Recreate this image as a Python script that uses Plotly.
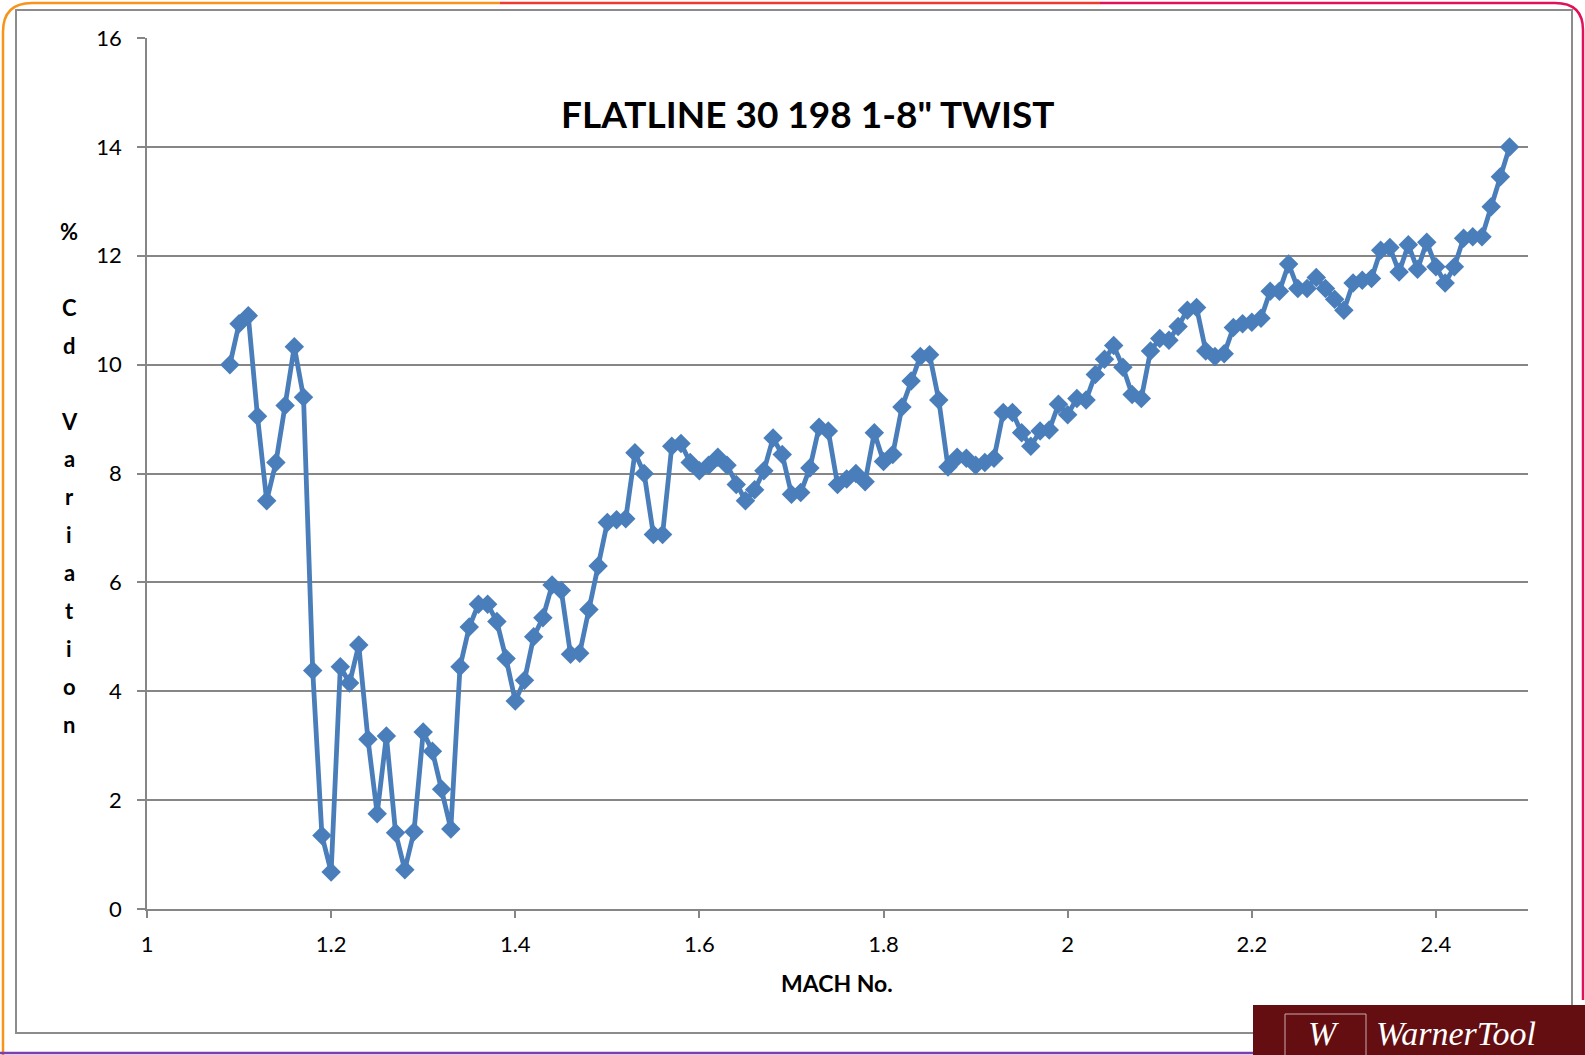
import plotly.graph_objects as go

# ---------------- data ----------------
mach = [1.09, 1.10, 1.11, 1.12, 1.13, 1.14, 1.15, 1.16, 1.17, 1.18, 1.19,
        1.20, 1.21, 1.22, 1.23, 1.24, 1.25, 1.26, 1.27, 1.28, 1.29,
        1.30, 1.31, 1.32, 1.33, 1.34, 1.35, 1.36, 1.37, 1.38, 1.39,
        1.40, 1.41, 1.42, 1.43, 1.44, 1.45, 1.46, 1.47, 1.48, 1.49,
        1.50, 1.51, 1.52, 1.53, 1.54, 1.55, 1.56, 1.57, 1.58, 1.59,
        1.60, 1.61, 1.62, 1.63, 1.64, 1.65, 1.66, 1.67, 1.68, 1.69,
        1.70, 1.71, 1.72, 1.73, 1.74, 1.75, 1.76, 1.77, 1.78, 1.79,
        1.80, 1.81, 1.82, 1.83, 1.84, 1.85, 1.86, 1.87, 1.88, 1.89,
        1.90, 1.91, 1.92, 1.93, 1.94, 1.95, 1.96, 1.97, 1.98, 1.99,
        2.00, 2.01, 2.02, 2.03, 2.04, 2.05, 2.06, 2.07, 2.08, 2.09,
        2.10, 2.11, 2.12, 2.13, 2.14, 2.15, 2.16, 2.17, 2.18, 2.19,
        2.20, 2.21, 2.22, 2.23, 2.24, 2.25, 2.26, 2.27, 2.28, 2.29,
        2.30, 2.31, 2.32, 2.33, 2.34, 2.35, 2.36, 2.37, 2.38, 2.39,
        2.40, 2.41, 2.42, 2.43, 2.44, 2.45, 2.46, 2.47, 2.48]

cd_variation = [10.0, 10.75, 10.9, 9.05, 7.5, 8.2, 9.25, 10.33, 9.4, 4.38, 1.35,
                0.68, 4.45, 4.15, 4.85, 3.12, 1.75, 3.18, 1.4, 0.72, 1.42,
                3.25, 2.9, 2.2, 1.47, 4.45, 5.18, 5.6, 5.6, 5.28, 4.6,
                3.82, 4.2, 5.0, 5.35, 5.95, 5.85, 4.68, 4.7, 5.5, 6.3,
                7.1, 7.15, 7.17, 8.38, 8.0, 6.88, 6.88, 8.5, 8.55, 8.2,
                8.05, 8.15, 8.3, 8.15, 7.8, 7.5, 7.7, 8.05, 8.65, 8.35,
                7.62, 7.65, 8.1, 8.85, 8.78, 7.8, 7.9, 8.0, 7.85, 8.75,
                8.22, 8.35, 9.22, 9.7, 10.15, 10.18, 9.35, 8.12, 8.3, 8.28,
                8.15, 8.2, 8.28, 9.12, 9.12, 8.75, 8.5, 8.78, 8.8, 9.27,
                9.08, 9.38, 9.35, 9.82, 10.1, 10.35, 9.95, 9.45, 9.38, 10.25,
                10.48, 10.45, 10.7, 11.0, 11.05, 10.25, 10.15, 10.2, 10.68, 10.75,
                10.78, 10.85, 11.35, 11.35, 11.85, 11.4, 11.4, 11.6, 11.4, 11.2,
                11.0, 11.5, 11.55, 11.58, 12.1, 12.15, 11.7, 12.2, 11.75, 12.25,
                11.8, 11.5, 11.8, 12.32, 12.35, 12.35, 12.9, 13.45, 14.0]

x_ticks = [1, 1.2, 1.4, 1.6, 1.8, 2, 2.2, 2.4]
x_tick_labels = ["1", "1.2", "1.4", "1.6", "1.8", "2", "2.2", "2.4"]
y_ticks = [0, 2, 4, 6, 8, 10, 12, 14, 16]
y_tick_labels = ["0", "2", "4", "6", "8", "10", "12", "14", "16"]

title_text = 'FLATLINE 30 198 1-8" TWIST'
x_title = "MACH No."
y_title_lines = ["%", "", "C", "d", "", "V", "a", "r", "i", "a", "t", "i", "o", "n"]
logo_text = "WarnerTool"
logo_mark = "W"

# ---------------- layout geometry (pixels) ----------------
W, H = 1585, 1055
L, R, T, B = 147, 1528, 38, 909   # plot area edges in pixels


def px(xp):
    return (xp - L) / (R - L)


def py(yp):
    return (B - yp) / (B - T)


FONT = "Lato"
GRAY = "#868686"
BLUE = "#4A7EBB"

fig = go.Figure()
fig.add_trace(go.Scatter(
    x=mach, y=cd_variation, mode="lines+markers",
    line=dict(color=BLUE, width=4.8),
    marker=dict(symbol="diamond", size=15, color=BLUE,
                line=dict(color=BLUE, width=0)),
    showlegend=False, hoverinfo="x+y", cliponaxis=False,
))

annotations = []
annotations.append(dict(
    text=title_text, x=px(807), y=py(114), xref="paper", yref="paper",
    showarrow=False, xanchor="center", yanchor="middle",
    font=dict(family=FONT, size=37, color="#000000", weight="bold")))
annotations.append(dict(
    text=x_title, x=px(837), y=py(983), xref="paper", yref="paper",
    showarrow=False, xanchor="center", yanchor="middle",
    font=dict(family=FONT, size=23, color="#000000", weight="bold")))
for i, ch in enumerate(y_title_lines):
    if ch:
        annotations.append(dict(
            text=ch, x=px(69), y=py(231.5 + 37.9 * i), xref="paper", yref="paper",
            showarrow=False, xanchor="center", yanchor="middle",
            font=dict(family=FONT, size=22, color="#000000", weight="bold")))

# logo text
annotations.append(dict(
    text=f"<i>{logo_text}</i>", x=px(1374), y=py(1054), xref="paper", yref="paper",
    showarrow=False, xanchor="left", yanchor="bottom",
    font=dict(family="Liberation Serif", size=34, color="#FFFFFF")))
annotations.append(dict(
    text=f"<i>{logo_mark}</i>", x=px(1306), y=py(1054), xref="paper", yref="paper",
    showarrow=False, xanchor="left", yanchor="bottom",
    font=dict(family="Liberation Serif", size=34, color="#FFFFFF")))

shapes = []
# chart frame (gray)
shapes.append(dict(type="rect", xref="paper", yref="paper",
                   x0=px(16), x1=px(1572), y0=py(10), y1=py(1033),
                   line=dict(color="#8C8C8C", width=2), layer="below"))
# outer coloured rounded frame
shapes.append(dict(type="path", xref="paper", yref="paper",
                   path=f"M {px(3)},{py(1055)} L {px(3)},{py(32)} Q {px(3)},{py(3)} {px(32)},{py(3)} L {px(500)},{py(3)}",
                   line=dict(color="#F7941D", width=2.5)))
shapes.append(dict(type="line", xref="paper", yref="paper",
                   x0=px(500), x1=px(1100), y0=py(3), y1=py(3),
                   line=dict(color="#EE3B2E", width=2.5)))
shapes.append(dict(type="path", xref="paper", yref="paper",
                   path=f"M {px(1100)},{py(3)} L {px(1555)},{py(3)} Q {px(1583)},{py(3)} {px(1583)},{py(30)} L {px(1583)},{py(1000)}",
                   line=dict(color="#E0105A", width=2.5)))
shapes.append(dict(type="line", xref="paper", yref="paper",
                   x0=px(0), x1=px(1253), y0=py(1053), y1=py(1053),
                   line=dict(color="#7A3FB0", width=2.5)))
# logo block
shapes.append(dict(type="rect", xref="paper", yref="paper",
                   x0=px(1253), x1=px(1590), y0=py(1005), y1=py(1060),
                   fillcolor="#640E11", line=dict(width=0), layer="above"))
shapes.append(dict(type="rect", xref="paper", yref="paper",
                   x0=px(1285), x1=px(1366), y0=py(1014), y1=py(1062),
                   fillcolor="rgba(0,0,0,0)", line=dict(color="#C9A9A9", width=1), layer="above"))

fig.update_layout(
    width=W, height=H,
    margin=dict(l=L, r=W - R, t=T, b=H - B, pad=0),
    paper_bgcolor="#FFFFFF", plot_bgcolor="#FFFFFF",
    font=dict(family=FONT, size=22, color="#000000"),
    annotations=annotations, shapes=shapes,
    xaxis=dict(range=[1, 2.5], tickvals=x_ticks, ticktext=x_tick_labels,
               showgrid=False, zeroline=False, showline=True,
               linecolor=GRAY, linewidth=1.5, ticks="outside", ticklen=7,
               tickwidth=1.5, tickcolor=GRAY, ticklabelstandoff=8,
               tickfont=dict(family=FONT, size=22, color="#000000")),
    yaxis=dict(range=[0, 16], tickvals=y_ticks, ticktext=y_tick_labels,
               showgrid=True, gridcolor=GRAY, gridwidth=1.5, zeroline=False,
               showline=True, linecolor=GRAY, linewidth=1.5, ticks="outside",
               ticklen=8, tickwidth=1.5, tickcolor=GRAY, ticklabelstandoff=11,
               tickfont=dict(family=FONT, size=22, color="#000000")),
)

fig.write_html("out.html", config={"displayModeBar": False},
               post_script="document.body.style.margin='0';document.body.style.overflow='hidden';")
